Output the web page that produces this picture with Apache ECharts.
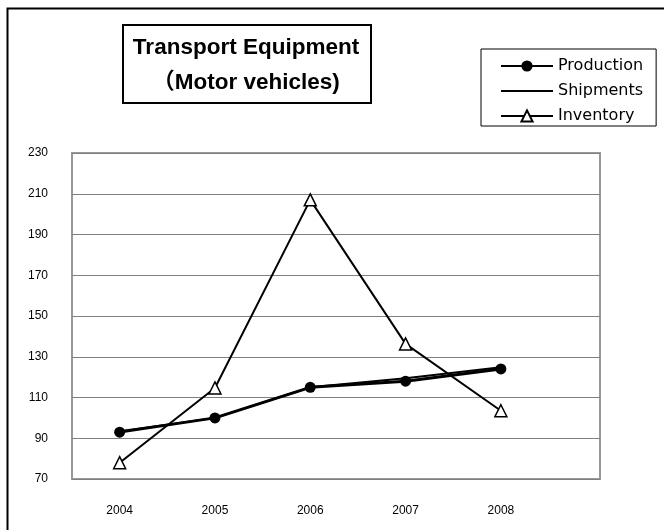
<!DOCTYPE html>
<html><head><meta charset="utf-8">
<script src="https://cdn.jsdelivr.net/npm/echarts@6/dist/echarts.min.js"></script>
<style>html,body{margin:0;padding:0;background:#fff}#c{width:664px;height:530px}</style>
</head><body><div id="c"></div>
<script>
const years = [2004, 2005, 2006, 2007, 2008];
const production = [93, 100, 115, 118, 124];
const shipments = [93.5, 100, 115, 119.5, 124.8];
const inventory = [78, 114.7, 207, 136.3, 103.5];
const yTicks = {min: 70, max: 230, interval: 20};
const titleLines = ['Transport Equipment', '（Motor vehicles)'];

const pairs = v => years.map((y, i) => [y, v[i]]);
const chart = echarts.init(document.getElementById('c'));
chart.setOption({
  animation: false,
  backgroundColor: '#fff',
  graphic: [
    {type: 'rect', left: 5, top: 6, shape: {width: 700, height: 600},
     style: {fill: 'none', stroke: '#000', lineWidth: 2}, z: -1},
    {type: 'rect', left: 122, top: 24, shape: {width: 248, height: 78},
     style: {fill: '#fff', stroke: '#000', lineWidth: 2}},
    {type: 'text', x: 246, y: 48, z: 10,
     style: {text: titleLines[0], align: 'center', verticalAlign: 'middle',
             font: 'bold 22.5px "Liberation Sans", sans-serif', fill: '#000'}},
    {type: 'text', x: 246, y: 83, z: 10,
     style: {text: titleLines[1], align: 'center', verticalAlign: 'middle',
             font: 'bold 22.5px "Liberation Sans", "Noto Sans CJK JP", sans-serif', fill: '#000'}}
  ],
  legend: {
    orient: 'vertical', left: 481, top: 49,
    borderColor: '#000', borderWidth: 1,
    padding: [9, 13, 2, 19],
    itemWidth: 52, itemHeight: 14, itemGap: 9,
    textStyle: {fontFamily: 'DejaVu Sans', fontSize: 16, color: '#000'},
    data: ['Production', {name: 'Shipments', itemStyle: {opacity: 0}}, 'Inventory']
  },
  grid: {left: 72, right: 64, top: 153, bottom: 51, show: true, borderColor: '#999', borderWidth: 2},
  xAxis: {
    type: 'value', min: 2003.5, max: 2009.04, interval: 0.5,
    axisLine: {show: false}, axisTick: {show: false}, splitLine: {show: false},
    axisLabel: {
      margin: 26, fontFamily: 'Liberation Sans', fontSize: 12, color: '#000',
      showMinLabel: true, showMaxLabel: false,
      formatter: v => (years.indexOf(v) >= 0 ? String(v) : '')
    }
  },
  yAxis: {
    type: 'value', min: yTicks.min, max: yTicks.max, interval: yTicks.interval,
    axisLine: {show: false}, axisTick: {show: false},
    splitLine: {lineStyle: {color: '#808080', width: 1}},
    axisLabel: {margin: 24, fontFamily: 'Liberation Sans', fontSize: 12, color: '#000'}
  },
  series: [
    {name: 'Production', type: 'line', data: pairs(production), symbol: 'circle', symbolSize: 11,
     itemStyle: {color: '#000'}, lineStyle: {color: '#000', width: 3}, z: 3},
    {name: 'Shipments', type: 'line', data: pairs(shipments), symbol: 'none',
     itemStyle: {color: '#000'}, lineStyle: {color: '#000', width: 2}, z: 2},
    {name: 'Inventory', type: 'line', data: pairs(inventory), symbol: 'triangle', symbolSize: 12,
     itemStyle: {color: '#fff', borderColor: '#000', borderWidth: 1.5}, lineStyle: {color: '#000', width: 2}, z: 4}
  ]
});
</script></body></html>
